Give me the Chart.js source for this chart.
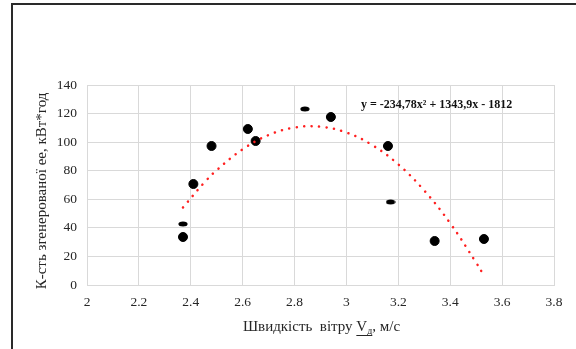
<!DOCTYPE html>
<html>
<head>
<meta charset="utf-8">
<script src="https://cdn.jsdelivr.net/npm/chart.js@4/dist/chart.umd.min.js"></script>
<style>
    body { margin: 0; background: #fff; }
    #wrap { position: relative; width: 576px; height: 349px; overflow: hidden; }
    #frame {
        position: absolute; left: 11px; top: 3px; width: 600px; height: 400px;
        border-top: 2px solid #2a2a2a; border-left: 2px solid #2a2a2a;
    }
    canvas { position: absolute; left: 0; top: 0; }
</style>
</head>
<body>
<div id="wrap">
    <div id="frame"></div>
    <canvas id="chart" width="576" height="349"></canvas>
</div>
<script>
// виміряні точки (круглі маркери)
const roundX = [2.37, 2.41, 2.48, 2.62, 2.65, 2.94, 3.16, 3.34, 3.53];
const roundY = [33.6, 70.7, 97.3, 109.2, 100.8, 117.6, 97.3, 30.8, 32.2];
// точки, що на картинці сплющені
const flatX = [2.37, 2.84, 3.17];
const flatY = [42.7, 123.2, 58.1];
// поліноміальна лінія тренду
const trendX = [2.37, 2.45, 2.5, 2.6, 2.7, 2.8, 2.9, 3.0, 3.1, 3.2, 3.3, 3.4, 3.5, 3.53];
const trendY = [54.3, 71.3, 80.4, 95.0, 105.0, 110.2, 110.8, 106.7, 97.9, 84.4, 66.1, 43.2, 15.6, 6.6];

const yTitle = 'К-сть згенерованої ее, кВт*год';
const equation = 'y = -234,78x² + 1343,9x - 1812';

const serif = '"Liberation Serif", "DejaVu Serif", serif';
const gridColor = '#d9d9d9';
const textColor = '#262626';

function toPoints(xs, ys) {
    return xs.map((x, i) => ({ x: x, y: ys[i] }));
}

// сплющений маркер
const oval = document.createElement('canvas');
oval.width = 10; oval.height = 6;
const octx = oval.getContext('2d');
octx.fillStyle = '#000';
octx.beginPath();
octx.ellipse(5, 3, 4.6, 2.5, 0, 0, Math.PI * 2);
octx.fill();

const textPlugin = {
    id: 'texts',
    afterDraw(chart) {
        const ctx = chart.ctx;
        const area = chart.chartArea;
        ctx.save();
        ctx.fillStyle = textColor;

        // підпис осі Y
        ctx.save();
        ctx.translate(42, (area.top + area.bottom) / 2 + 6);
        ctx.rotate(-Math.PI / 2);
        ctx.font = '15px ' + serif;
        ctx.textAlign = 'center';
        ctx.textBaseline = 'middle';
        ctx.fillText(yTitle, 0, 0);
        ctx.restore();

        // підпис осі X з індексом
        ctx.textBaseline = 'alphabetic';
        ctx.textAlign = 'left';
        const p1 = 'Швидкість  вітру ';
        const p2 = 'V';
        const p3 = ', м/с';
        ctx.font = '15px ' + serif;
        const w1 = ctx.measureText(p1).width;
        const w2 = ctx.measureText(p2).width;
        ctx.font = '10px ' + serif;
        const ws = ctx.measureText('д').width;
        ctx.font = '15px ' + serif;
        const w3 = ctx.measureText(p3).width;
        const total = w1 + w2 + ws + w3;
        let x = (area.left + area.right) / 2 - total / 2 + 1;
        const base = 331;
        ctx.fillText(p1, x, base); x += w1;
        const ux = x;
        ctx.fillText(p2, x, base); x += w2;
        ctx.font = '10px ' + serif;
        ctx.fillText('д', x, base + 3); x += ws;
        const uw = x - ux;
        ctx.font = '15px ' + serif;
        ctx.fillText(p3, x, base);
        ctx.fillRect(ux, base + 4, uw, 1);

        // рівняння тренду
        ctx.font = 'bold 12px ' + serif;
        ctx.fillStyle = '#111';
        ctx.textBaseline = 'middle';
        ctx.fillText(equation, 361, 105);
        ctx.restore();
    }
};

new Chart(document.getElementById('chart').getContext('2d'), {
    type: 'scatter',
    data: {
        datasets: [
            {
                label: 'Тренд',
                type: 'line',
                data: toPoints(trendX, trendY),
                borderColor: '#ff2020',
                borderWidth: 2.5,
                borderDash: [0.1, 7.4],
                borderCapStyle: 'round',
                pointRadius: 0,
                tension: 0.4,
                fill: false,
                order: 0
            },
            {
                label: 'Дані',
                data: toPoints(roundX, roundY),
                backgroundColor: '#000',
                borderColor: '#000',
                pointRadius: 4.5,
                pointHoverRadius: 4.5,
                order: 1
            },
            {
                label: 'Дані 2',
                data: toPoints(flatX, flatY),
                pointStyle: oval,
                order: 1
            }
        ]
    },
    options: {
        responsive: false,
        animation: false,
        layout: { padding: { left: 45, right: 22, top: 85, bottom: 40 } },
        plugins: {
            legend: { display: false },
            tooltip: { enabled: false }
        },
        scales: {
            x: {
                type: 'linear',
                min: 2,
                max: 3.8,
                ticks: {
                    stepSize: 0.2,
                    padding: 9,
                    color: textColor,
                    font: { family: serif, size: 13.5 },
                    callback: v => String(Number(v.toFixed(1)))
                },
                grid: { color: gridColor, drawTicks: false },
                border: { color: gridColor },
                afterFit(scale) { scale.height = 24; }
            },
            y: {
                min: 0,
                max: 140,
                ticks: {
                    stepSize: 20,
                    padding: 10,
                    color: textColor,
                    font: { family: serif, size: 13.5 }
                },
                grid: { color: gridColor, drawTicks: false },
                border: { color: gridColor },
                afterFit(scale) { scale.width = 42; }
            }
        }
    },
    plugins: [textPlugin]
});
</script>
</body>
</html>
